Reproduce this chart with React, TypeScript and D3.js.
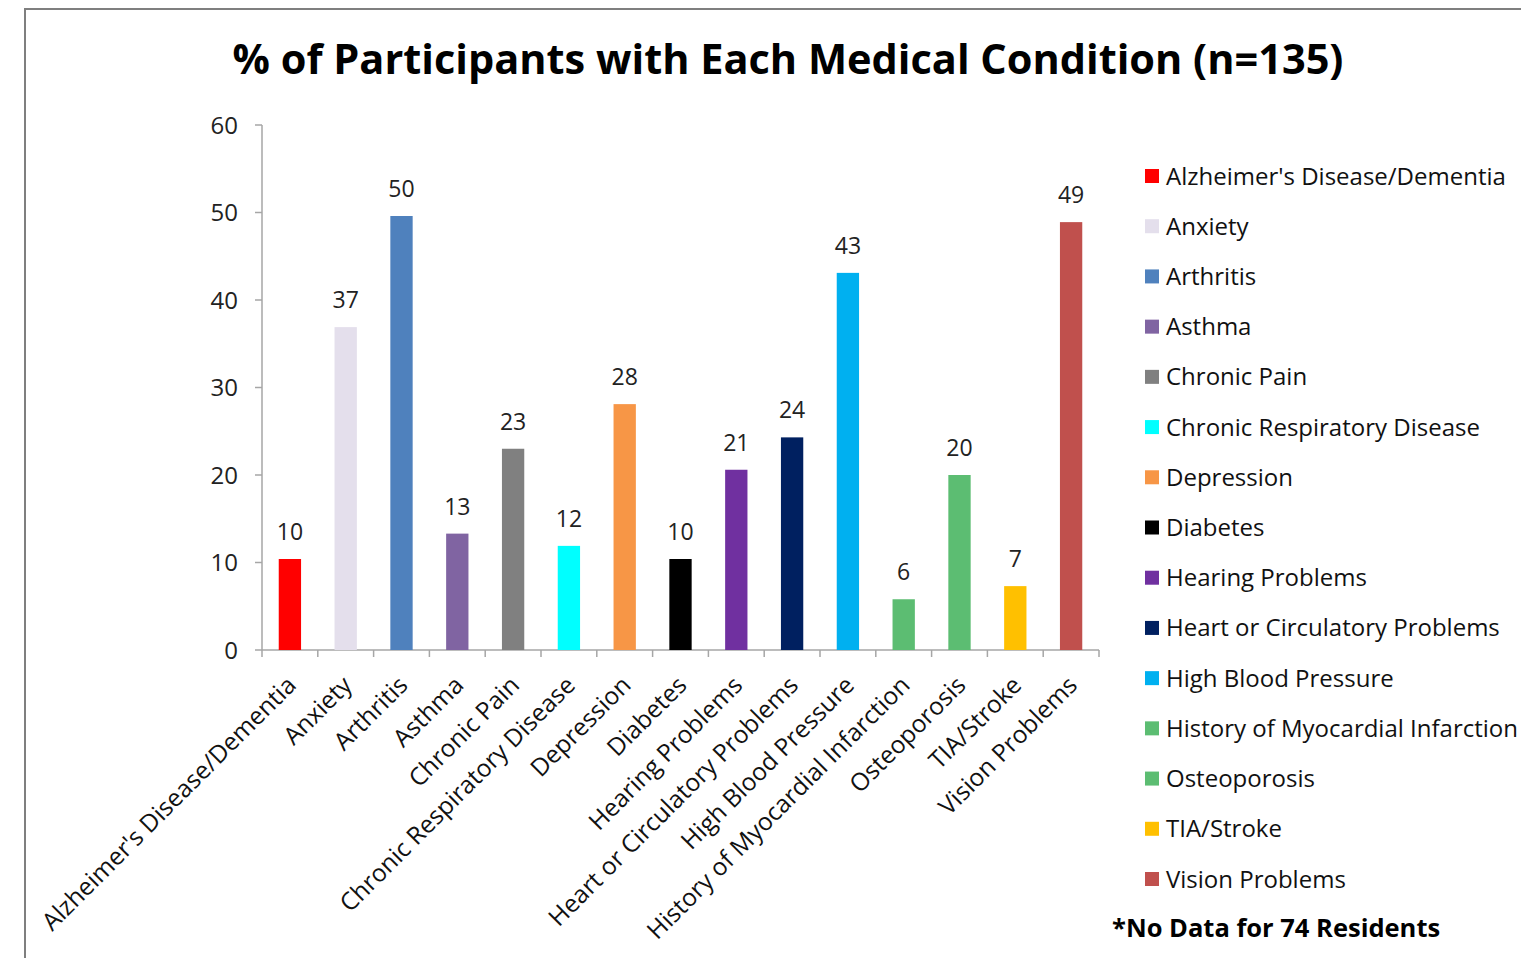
import React from "react";
import * as d3 from "d3";

const categories = [
  "Alzheimer's Disease/Dementia",
  "Anxiety",
  "Arthritis",
  "Asthma",
  "Chronic Pain",
  "Chronic Respiratory Disease",
  "Depression",
  "Diabetes",
  "Hearing Problems",
  "Heart or Circulatory Problems",
  "High Blood Pressure",
  "History of Myocardial Infarction",
  "Osteoporosis",
  "TIA/Stroke",
  "Vision Problems",
];
const values = [10.4, 36.9, 49.6, 13.3, 23.0, 11.9, 28.1, 10.4, 20.6, 24.3, 43.1, 5.8, 20.0, 7.3, 48.9];
const valueLabels = ["10", "37", "50", "13", "23", "12", "28", "10", "21", "24", "43", "6", "20", "7", "49"];
const colors = [
  "#FF0000", "#E4DFEC", "#4F81BD", "#8064A2", "#808080", "#00FFFF", "#F79646",
  "#000000", "#7030A0", "#002060", "#00B0F0", "#5CBD72", "#5CBD72", "#FFC000", "#C0504D",
];
const yTicks = [0, 10, 20, 30, 40, 50, 60];
const title = "% of Participants with Each Medical Condition (n=135)";
const note = "*No Data for 74 Residents";

const FONT = "'Open Sans', sans-serif";

export default function App() {
  const W = 1521, H = 958;
  const x0 = 262, x1 = 1099, yTop = 125, yBot = 650;
  const x = d3.scaleBand<string>().domain(categories).range([x0, x1]).paddingInner(0.6).paddingOuter(0.3);
  const xb = d3.scaleBand<string>().domain(categories).range([x0, x1]);
  const y = d3.scaleLinear().domain([0, 60]).range([yBot, yTop]);
  const axisColor = "#A6A6A6";
  const legY = d3.scalePoint<string>().domain(categories).range([176, 879]);

  return (
    <svg width={W} height={H} style={{ position: "absolute", left: 0, top: 0, background: "#fff" }}>
      <rect x={25} y={9} width={W + 10} height={H + 10} fill="#fff" stroke="#7F7F7F" strokeWidth={2} />
      <text x={788} y={63} textAnchor="middle" dominantBaseline="middle" fontFamily={FONT} fontWeight="bold" fontSize={41.5} fill="#000">
        {title}
      </text>
      {/* y axis */}
      <line x1={x0} x2={x0} y1={yTop} y2={yBot} stroke={axisColor} strokeWidth={1.5} />
      {yTicks.map((t) => (
        <g key={t}>
          <line x1={x0 - 7} x2={x0} y1={y(t)} y2={y(t)} stroke={axisColor} strokeWidth={1.5} />
          <text x={x0 - 24} y={y(t) - 1} textAnchor="end" dominantBaseline="central" fontFamily={FONT} fontSize={24} fill="#222">
            {t}
          </text>
        </g>
      ))}
      {/* x axis */}
      <line x1={x0} x2={x1} y1={yBot} y2={yBot} stroke={axisColor} strokeWidth={1.5} />
      {categories.map((c, i) => (
        <line key={"t" + i} x1={xb(c)!} x2={xb(c)!} y1={yBot} y2={yBot + 7} stroke={axisColor} strokeWidth={1.5} />
      ))}
      <line x1={x1} x2={x1} y1={yBot} y2={yBot + 7} stroke={axisColor} strokeWidth={1.5} />
      {/* bars */}
      {categories.map((c, i) => (
        <g key={c}>
          <rect x={x(c)!} y={y(values[i])} width={x.bandwidth()} height={yBot - y(values[i])} fill={colors[i]} />
          <text x={x(c)! + x.bandwidth() / 2} y={y(values[i]) - 28} textAnchor="middle" dominantBaseline="central" fontFamily={FONT} fontSize={23} fill="#222">
            {valueLabels[i]}
          </text>
        </g>
      ))}
      {/* x labels */}
      {categories.map((c, i) => {
        const cx = xb(c)! + xb.bandwidth() / 2;
        return (
          <text key={"l" + i} transform={`translate(${cx + 1},${yBot + 30}) rotate(-45)`} textAnchor="end" dominantBaseline="central" fontFamily={FONT} fontSize={24.5} fill="#111">
            {c}
          </text>
        );
      })}
      {/* legend */}
      {categories.map((c, i) => (
        <g key={"g" + i}>
          <rect x={1145} y={legY(c)! - 7} width={14} height={14} fill={colors[i]} />
          <text x={1166} y={legY(c)! - 1} dominantBaseline="central" fontFamily={FONT} fontSize={24} fill="#111">
            {c}
          </text>
        </g>
      ))}
      <text x={1112} y={927} dominantBaseline="central" fontFamily={FONT} fontWeight="bold" fontSize={25.5} fill="#000">
        {note}
      </text>
    </svg>
  );
}
